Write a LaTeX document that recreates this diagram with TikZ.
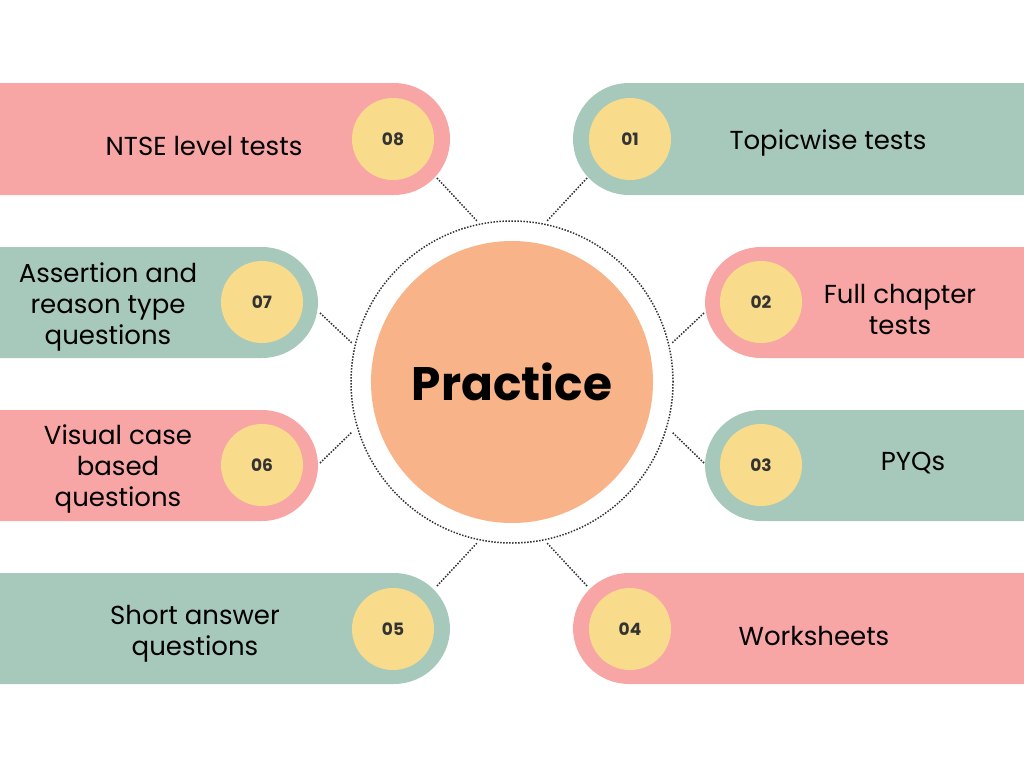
\documentclass[tikz,border=0pt]{standalone}
\usepackage{fontspec}
\setmainfont{Poppins}
\begin{document}
\begin{tikzpicture}[x=1pt,y=-1pt,
  pinkc/.style={fill={rgb,255:red,248;green,165;blue,165}},
  greenc/.style={fill={rgb,255:red,167;green,201;blue,187}},
  num/.style={circle,minimum size=82pt,inner sep=0pt,fill={rgb,255:red,248;green,220;blue,140},text={rgb,255:red,51;green,51;blue,51},font=\fontsize{17}{17}\selectfont\bfseries},
  lbl/.style={align=center,font=\fontsize{26}{31}\selectfont,text=black,yshift=-3pt},
  conn/.style={dash pattern=on 1.5pt off 1.5pt,line width=1.5pt,black!80}]
\useasboundingbox (0,0) rectangle (1024,768);
\clip (0,0) rectangle (1024,768);
% bars
\fill[pinkc,rounded corners=56pt] (-100,83) rectangle (450,195);
\fill[greenc,rounded corners=56pt] (-100,247) rectangle (318,358);
\fill[pinkc,rounded corners=56pt] (-100,410) rectangle (318,521);
\fill[greenc,rounded corners=56pt] (-100,573) rectangle (450,684);
\fill[greenc,rounded corners=56pt] (573,83) rectangle (1124,195);
\fill[pinkc,rounded corners=56pt] (705,247) rectangle (1124,358);
\fill[greenc,rounded corners=56pt] (705,410) rectangle (1124,521);
\fill[pinkc,rounded corners=56pt] (573,573) rectangle (1124,684);
% center
\draw[conn] (512,382) circle (161pt);
\node[circle,minimum size=282pt,inner sep=0pt,fill={rgb,255:red,248;green,180;blue,136},font=\fontsize{47}{47}\selectfont\bfseries] (c) at (512,382) {Practice};
% numbers
\node[num] (n8) at (393,139) {08};
\node[num] (n7) at (262,302) {07};
\node[num] (n6) at (262,465) {06};
\node[num] (n5) at (393,629) {05};
\node[num] (n1) at (630,139) {01};
\node[num] (n2) at (761,302) {02};
\node[num] (n3) at (761,465) {03};
\node[num] (n4) at (630,629) {04};
% labels
\node[lbl] (t8) at (204,143) {NTSE level tests};
\node[lbl] (t7) at (108,304) {Assertion and\\reason type\\questions};
\node[lbl] (t6) at (118,466) {Visual case\\based\\questions};
\node[lbl] (t5) at (195,631) {Short answer\\questions};
\node[lbl] (t1) at (828,140) {Topicwise tests};
\node[lbl] (t2) at (900,306) {Full chapter\\tests};
\node[lbl] (t3) at (913,460) {PYQs};
\node[lbl] (t4) at (814,633) {Worksheets};
% connectors
\coordinate (a8) at (437,178); \coordinate (b8) at (477,221);
\coordinate (a1) at (587,178); \coordinate (b1) at (547,221);
\coordinate (a7) at (320,313); \coordinate (b7) at (352,343);
\coordinate (a6) at (320,463); \coordinate (b6) at (352,432);
\coordinate (a2) at (704,313); \coordinate (b2) at (672,343);
\coordinate (a3) at (704,463); \coordinate (b3) at (672,432);
\coordinate (a5) at (437,586); \coordinate (b5) at (477,543);
\coordinate (a4) at (587,586); \coordinate (b4) at (547,543);
\foreach \i in {1,...,8}{\draw[conn] (a\i) -- (b\i);}
\end{tikzpicture}
\end{document}
